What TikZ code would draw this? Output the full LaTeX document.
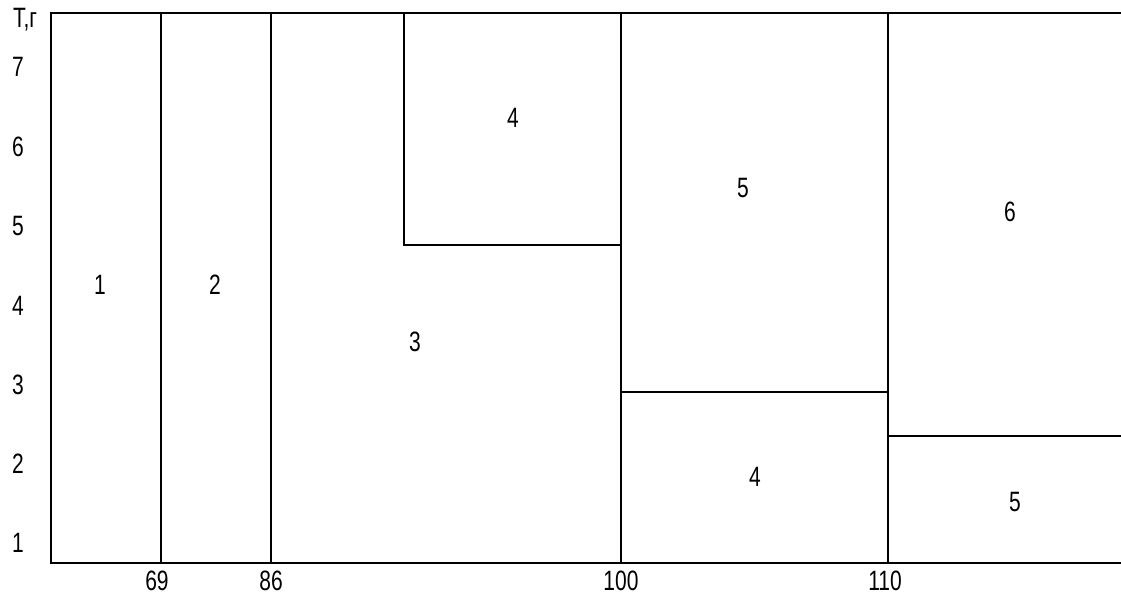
\documentclass[tikz,border=0pt]{standalone}
\usepackage{fontspec}
\setmainfont{Liberation Sans}[FakeStretch=0.75]
\tikzset{
  ln/.style={line width=1.7pt, black},
  lbl/.style={inner sep=0pt, font=\fontsize{28}{28}\selectfont},
}
\begin{document}
\begin{tikzpicture}[x=1pt,y=-1pt]
\useasboundingbox (0,0) rectangle (1121,605);
% frame
\coordinate (TL) at (51,13);
\coordinate (BL) at (51,563);
\coordinate (TR) at (1121,13);
\coordinate (BR) at (1121,563);
\draw[ln] (TR) -- (TL) -- (BL) -- (BR);
% vertical dividers
\draw[ln] (161,13) -- (161,563);
\draw[ln] (271,13) -- (271,563);
\draw[ln] (621,13) -- (621,563);
\draw[ln] (888,13) -- (888,563);
% box 4 at top
\draw[ln] (404,13) -- (404,245) -- (621,245);
% horizontal dividers
\draw[ln] (621,392) -- (888,392);
\draw[ln] (888,436) -- (1121,436);
% axis labels
\node[lbl] (yl) at (25,20) {Т,г};
\node[lbl] (y7) at (18,67) {7};
\node[lbl] (y6) at (18,147) {6};
\node[lbl] (y5) at (18,226) {5};
\node[lbl] (y4) at (18,306) {4};
\node[lbl] (y3) at (18,385) {3};
\node[lbl] (y2) at (18,464) {2};
\node[lbl] (y1) at (18,543) {1};
\node[lbl] (x69) at (157,581) {69};
\node[lbl] (x86) at (271,581) {86};
\node[lbl] (x100) at (621,581) {100};
\node[lbl] (x110) at (885,581) {110};
% region labels
\node[lbl] (r1) at (100,285) {1};
\node[lbl] (r2) at (215,285) {2};
\node[lbl] (r3) at (415,342) {3};
\node[lbl] (r4a) at (513,118) {4};
\node[lbl] (r5a) at (743,188) {5};
\node[lbl] (r6) at (1010,212) {6};
\node[lbl] (r4b) at (755,477) {4};
\node[lbl] (r5b) at (1015,502) {5};
\end{tikzpicture}
\end{document}
